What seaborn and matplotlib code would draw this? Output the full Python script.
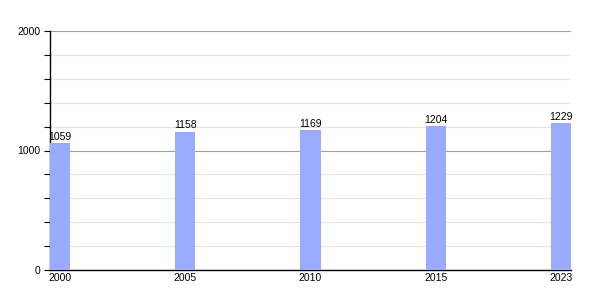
import matplotlib
matplotlib.use("Agg")
import matplotlib.pyplot as plt
import seaborn as sns
import pandas as pd
from matplotlib.ticker import MultipleLocator

years = ["2000", "2005", "2010", "2015", "2023"]
population = [1059, 1158, 1169, 1204, 1229]

sns.set_style("white")
plt.rcParams['font.family'] = ['Liberation Sans', 'DejaVu Sans']
plt.rcParams['text.color'] = 'black'
plt.rcParams['xtick.color'] = 'black'
plt.rcParams['ytick.color'] = 'black'

df = pd.DataFrame({"year": years, "pop": population})

fig = plt.figure(figsize=(6, 3), dpi=100)
ax = fig.add_axes([50/600, 30/300, 521/600, 239/300])

sns.barplot(data=df, x="year", y="pop", color="#99aaff", saturation=1,
            width=0.16, linewidth=0, ax=ax, zorder=3)

ax.set_xlim(-0.08, 4.08)
ax.set_ylim(0, 2000)
ax.yaxis.set_major_locator(MultipleLocator(1000))
ax.yaxis.set_minor_locator(MultipleLocator(200))
ax.grid(which="minor", axis="y", color="#e4e4e4", linewidth=0.8, zorder=0)
ax.grid(which="major", axis="y", color="#a0a0a0", linewidth=0.8, zorder=1)
ax.set_axisbelow(True)

for s in ["top", "right"]:
    ax.spines[s].set_visible(False)
for s in ["left", "bottom"]:
    ax.spines[s].set_color("black")
    ax.spines[s].set_linewidth(1)

ax.tick_params(axis="y", which="major", length=4, width=0.8, color="black",
               labelcolor="black", labelsize=7.5, left=True, pad=3)
ax.tick_params(axis="y", which="minor", length=4, width=0.8, color="black", left=True)
ax.tick_params(axis="x", length=0, labelsize=7.5, labelcolor="black", pad=2)
ax.set_xlabel("")
ax.set_ylabel("")

for c in ax.containers:
    ax.bar_label(c, labels=[str(v) for v in population], fontsize=7.5,
                 padding=1, color="black")

fig.savefig("out.png", dpi=100)
